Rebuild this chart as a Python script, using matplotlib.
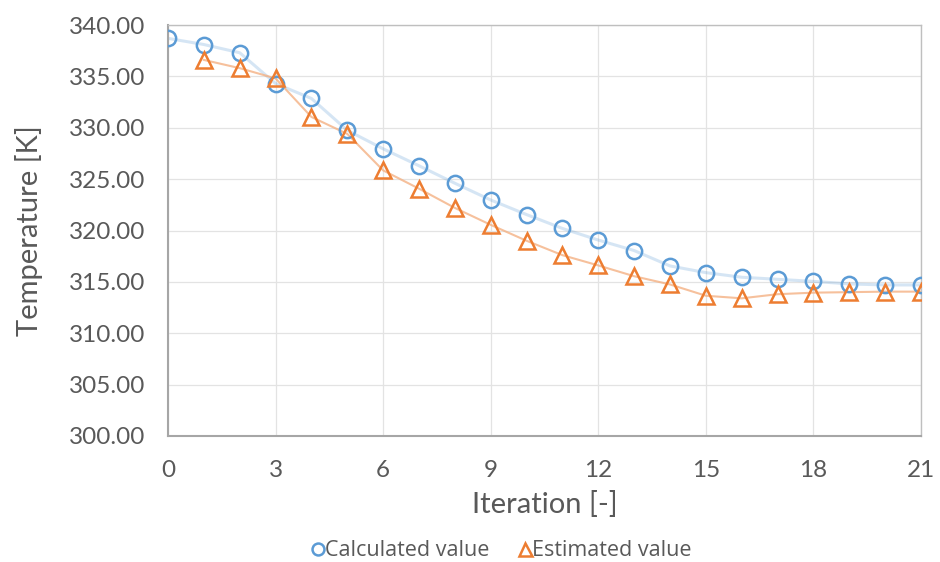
import matplotlib
matplotlib.use("Agg")
import matplotlib.pyplot as plt

iterations_calc = list(range(0, 22))
calculated = [338.7, 338.1, 337.3, 334.3, 332.85, 329.75, 327.95, 326.3, 324.6, 322.97,
              321.55, 320.2, 319.07, 318.05, 316.55, 315.9, 315.45, 315.25, 315.05, 314.8,
              314.7, 314.7]
iterations_est = list(range(1, 22))
estimated = [336.6, 335.8, 334.8, 331.05, 329.4, 325.85, 324.07, 322.2, 320.55, 319.0,
             317.6, 316.6, 315.55, 314.75, 313.65, 313.4, 313.8, 313.95, 314.0, 314.05, 314.05]

xticks = list(range(0, 22, 3))
yticks = [300, 305, 310, 315, 320, 325, 330, 335, 340]

text_color = "#595959"
font = "Lato"

fig = plt.figure(figsize=(9.4, 5.62), dpi=100)
ax = fig.add_axes([168/940, 1-436/562, (921-168)/940, (436-25)/562])

ax.plot(iterations_calc, calculated, color="#5B9BD5", alpha=0.25, lw=2.2, zorder=2)
ax.plot(iterations_calc, calculated, ls="none", marker="o", markersize=11,
        markerfacecolor="none", markeredgecolor="#5B9BD5", markeredgewidth=1.8, zorder=4,
        label="Calculated value")
ax.plot(iterations_est, estimated, color="#F4B183", alpha=0.8, lw=1.5, zorder=3)
ax.plot(iterations_est, estimated, ls="none", marker="^", markersize=12,
        markerfacecolor="none", markeredgecolor="#ED7D31", markeredgewidth=1.8, zorder=5,
        label="Estimated value")

ax.set_xlim(0, 21)
ax.set_ylim(300, 340)
ax.set_xticks(xticks)
ax.set_yticks(yticks)
ax.set_yticklabels([f"{v:.2f}" for v in yticks])
ax.grid(True, color="#E3E3E3", lw=0.9)
ax.set_axisbelow(True)
for s in ax.spines.values():
    s.set_color("#BFBFBF")
    s.set_linewidth(1.0)
ax.spines["left"].set_color("#A6A6A6")
ax.spines["bottom"].set_color("#A6A6A6")
ax.spines["left"].set_linewidth(1.5)
ax.spines["bottom"].set_linewidth(1.5)
ax.tick_params(length=0, labelsize=17.5, colors=text_color)
ax.tick_params(axis="y", pad=16)
ax.tick_params(axis="x", pad=17)
for lab in ax.get_xticklabels() + ax.get_yticklabels():
    lab.set_family(font)

ax.set_xlabel("Iteration [-]", fontsize=21, color=text_color, family=font)
ax.set_ylabel("Temperature [K]", fontsize=21, color=text_color, family=font)
ax.xaxis.set_label_coords(0.5, (436-491)/411)
ax.yaxis.set_label_coords((43-168)/753, 0.5)

leg = fig.legend(loc="center", bbox_to_anchor=(501/940, 1-551/562), ncol=2, frameon=False,
                 prop={"family": "Open Sans", "size": 15.5}, handlelength=0.7,
                 handletextpad=0.0, columnspacing=1.3, markerscale=0.78)
for t in leg.get_texts():
    t.set_color(text_color)

fig.savefig("out.png", dpi=100)
